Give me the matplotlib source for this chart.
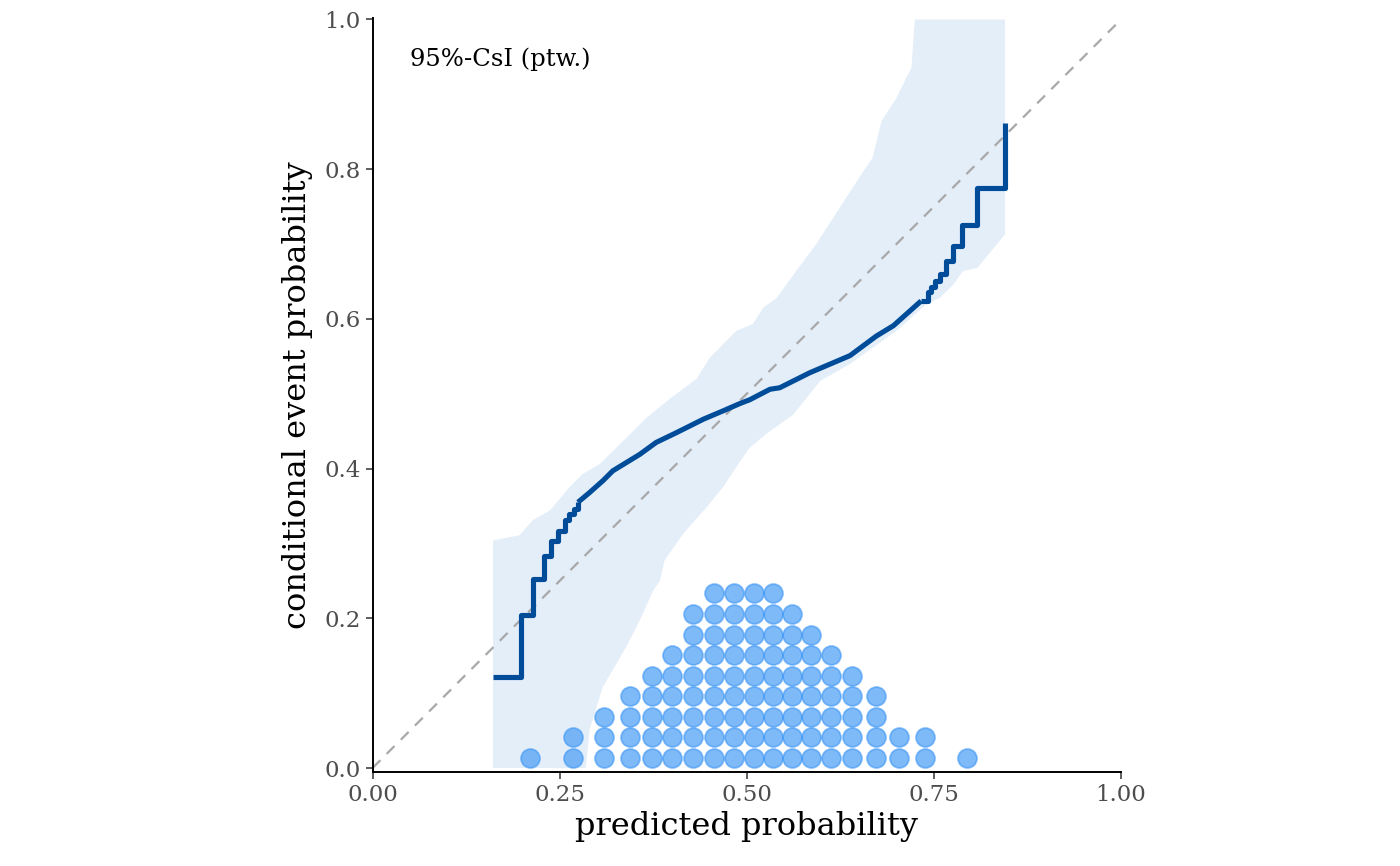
import numpy as np
import matplotlib
matplotlib.use("Agg")
from matplotlib import pyplot as plt

# pointwise 95% consistency band (upper edge, lower edge)
upper_x = [0.161, 0.1965, 0.214, 0.237, 0.263, 0.281, 0.3035, 0.335, 0.344, 0.366,
           0.397, 0.433, 0.4505, 0.486, 0.508, 0.522, 0.54, 0.566, 0.593, 0.607,
           0.633, 0.653, 0.668, 0.68, 0.70, 0.713, 0.72, 0.7246, 0.845]
upper_y = [0.304, 0.311, 0.331, 0.344, 0.375, 0.393, 0.406, 0.437, 0.446, 0.468,
           0.493, 0.52, 0.548, 0.584, 0.593, 0.615, 0.628, 0.664, 0.70, 0.722,
           0.762, 0.793, 0.815, 0.864, 0.895, 0.922, 0.935, 1.0, 1.0]
lower_x = [0.161, 0.285, 0.29, 0.3075, 0.321, 0.339, 0.357, 0.375, 0.384, 0.39,
           0.415, 0.446, 0.468, 0.49, 0.504, 0.528, 0.562, 0.598, 0.638, 0.70,
           0.74, 0.758, 0.776, 0.789, 0.808, 0.845]
lower_y = [0.0, 0.0, 0.051, 0.108, 0.131, 0.162, 0.197, 0.237, 0.25, 0.277,
           0.313, 0.348, 0.375, 0.408, 0.428, 0.448, 0.472, 0.517, 0.54, 0.584,
           0.62, 0.628, 0.646, 0.664, 0.668, 0.713]

# CEP estimate: stepwise at both ends, dense small steps in the middle
left_x = [0.161, 0.198, 0.214, 0.229, 0.239, 0.248, 0.257, 0.2625, 0.269, 0.2745]
left_y = [0.122, 0.205, 0.252, 0.283, 0.303, 0.316, 0.331, 0.340, 0.346, 0.355]
mid_x = [0.2745, 0.29, 0.308, 0.321, 0.339, 0.357, 0.379, 0.406, 0.442, 0.468,
         0.491, 0.504, 0.531, 0.544, 0.584, 0.638, 0.673, 0.696, 0.733]
mid_y = [0.355, 0.368, 0.384, 0.397, 0.408, 0.419, 0.435, 0.448, 0.466, 0.477,
         0.487, 0.492, 0.506, 0.508, 0.528, 0.551, 0.577, 0.591, 0.624]
right_x = [0.733, 0.742, 0.746, 0.751, 0.758, 0.766, 0.776, 0.788, 0.808, 0.845]
right_y = [0.624, 0.636, 0.643, 0.651, 0.660, 0.678, 0.697, 0.726, 0.775, 0.862]

# dot plot of predicted probabilities
dot_x = [0.2099, 0.2674, 0.3098, 0.3436, 0.3730, 0.4002, 0.4278, 0.4568, 0.4830,
         0.5094, 0.5352, 0.5611, 0.5865, 0.6132, 0.6408, 0.6729, 0.7032, 0.7380, 0.7945]
dot_count = [1, 2, 3, 4, 5, 6, 8, 9, 9, 9, 9, 8, 7, 6, 5, 4, 2, 2, 1]

xticks = [0.0, 0.25, 0.5, 0.75, 1.0]
xtick_labels = ["0.00", "0.25", "0.50", "0.75", "1.00"]
yticks = [0.0, 0.2, 0.4, 0.6, 0.8, 1.0]
ytick_labels = ["0.0", "0.2", "0.4", "0.6", "0.8", "1.0"]

plt.rcParams['font.family'] = ['DejaVu Serif']

fig = plt.figure(figsize=(14, 8.66), dpi=100)
ax = fig.add_axes([372.5 / 1400, (866 - 772) / 866, 748.5 / 1400, (772 - 18) / 866])

# band
band_x = np.concatenate([upper_x, lower_x[::-1]])
band_y = np.concatenate([upper_y, lower_y[::-1]])
ax.fill(band_x, band_y, color="#E4EEF9", lw=0, zorder=1)

# diagonal
ax.plot([0, 1], [0, 1], color="#A8A8A8", lw=1.6, dashes=(5, 4), zorder=2)

# estimate
line_kw = dict(color="#004C99", lw=3.7, solid_capstyle="butt", zorder=3)
ax.plot(left_x, left_y, drawstyle="steps-post", **line_kw)
ax.plot(mid_x, mid_y, **line_kw)
ax.plot(right_x, right_y, drawstyle="steps-post", **line_kw)

# dots
px, py = [], []
for x, n in zip(dot_x, dot_count):
    for k in range(n):
        px.append(x)
        py.append(0.0133 + k * 0.0275)
ax.plot(px, py, ls="none", marker="o", ms=13.6, mew=1.3,
        mfc=(72 / 255, 156 / 255, 246 / 255, 0.7),
        mec=(60 / 255, 150 / 255, 245 / 255, 0.6), zorder=4)

ax.text(0.05, 0.947, "95%-CsI (ptw.)", fontsize=17.5, ha="left", va="center",
        color="black", zorder=5)

ax.set_xlim(0, 1)
ax.set_ylim(-0.0053, 1.002)
ax.set_xticks(xticks)
ax.set_xticklabels(xtick_labels)
ax.set_yticks(yticks)
ax.set_yticklabels(ytick_labels)
ax.tick_params(labelsize=16.5, labelcolor="#4D4D4D", color="#333333",
               length=5, width=1.1)
for s in ["top", "right"]:
    ax.spines[s].set_visible(False)
for s in ["left", "bottom"]:
    ax.spines[s].set_linewidth(1.4)
    ax.spines[s].set_color("black")

ax.set_xlabel("predicted probability", fontsize=23, labelpad=4)
ax.set_ylabel("conditional event probability", fontsize=23, labelpad=8)

fig.savefig("out.png", dpi=100)
